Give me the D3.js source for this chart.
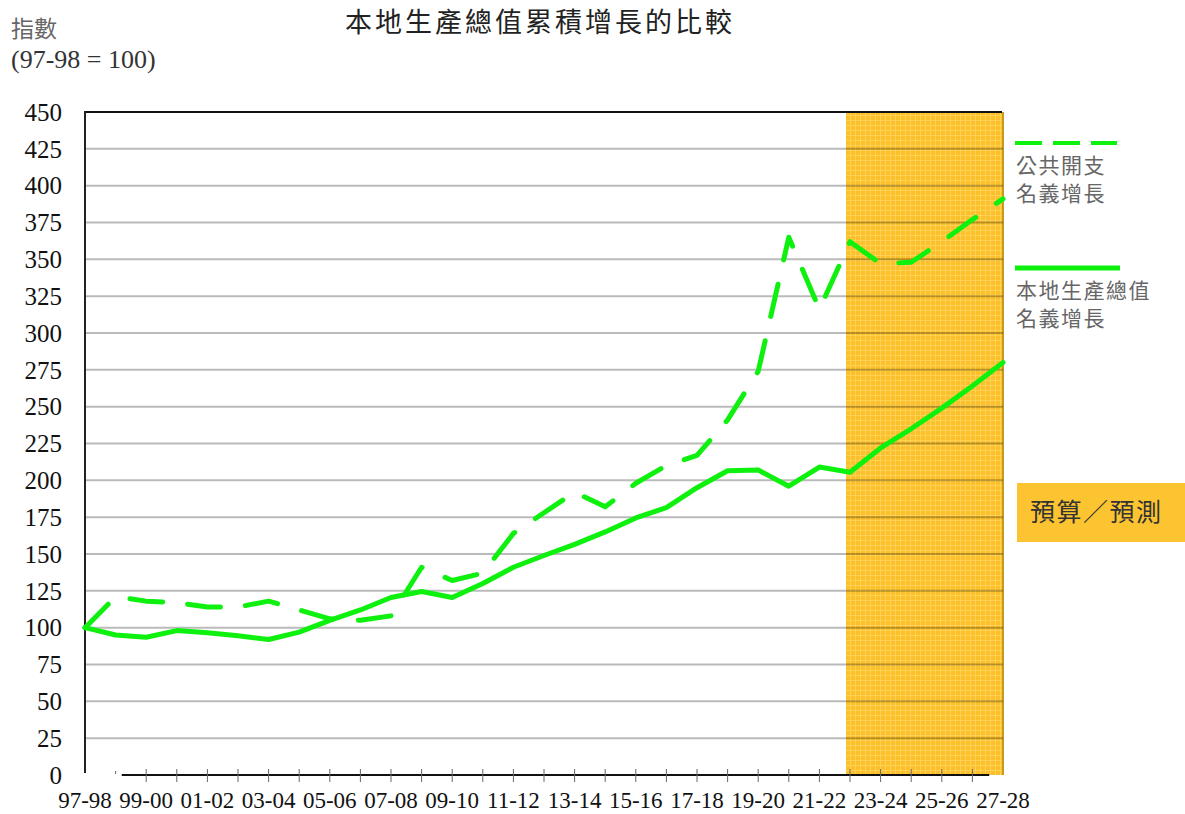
<!DOCTYPE html>
<html>
<head>
<meta charset="utf-8">
<script src="https://cdn.jsdelivr.net/npm/d3@7"></script>
<style>
  html, body { margin: 0; padding: 0; background: #fff; }
  svg { display: block; }
</style>
</head>
<body>
<svg id="chart" width="1185" height="814"></svg>
<script>
// ---- data ----
const years = ["97-98","98-99","99-00","00-01","01-02","02-03","03-04","04-05","05-06","06-07",
               "07-08","08-09","09-10","10-11","11-12","12-13","13-14","14-15","15-16","16-17",
               "17-18","18-19","19-20","20-21","21-22","22-23","23-24","24-25","25-26","26-27","27-28"];
const publicExpenditure = [100,121,118,117,114,114,118,112,106,105,
                           108,141,132,137,164,178,192,182,198,210,
                           217,241,274,365,316,362,347,348,362,377,391];
const gdp = [100,95,93.5,98,96.5,94.5,92,97,105,112,
             120.5,124.5,120.5,130,141,149,156.5,165,174.5,181.5,
             195,206.5,207,196,209,205.5,222,235,249,264,280];
const yTicks = [0,25,50,75,100,125,150,175,200,225,250,275,300,325,350,375,400,425,450];
const xLabels = ["97-98","99-00","01-02","03-04","05-06","07-08","09-10","11-12","13-14",
                 "15-16","17-18","19-20","21-22","23-24","25-26","27-28"];
const forecastStart = "22-23";
const title = "本地生產總值累積增長的比較";
const yTitle1 = "指數";
const yTitle2 = "(97-98 = 100)";
const legendPublic = ["公共開支", "名義增長"];
const legendGdp = ["本地生產總值", "名義增長"];
const forecastLabel = "預算／預測";

// ---- drawing ----
const svg = d3.select("#chart");
const GREEN = "#0ef00e";
const x = d3.scaleLinear().domain([0, years.length - 1]).range([85, 1003]);
const y = d3.scaleLinear().domain([0, 450]).range([775, 112]);
const xi = s => years.indexOf(s);

// pattern for forecast shading
const defs = svg.append("defs");
const pat = defs.append("pattern").attr("id", "dots").attr("patternUnits", "userSpaceOnUse")
  .attr("width", 5).attr("height", 5);
pat.append("rect").attr("width", 5).attr("height", 5).attr("fill", "#fcc12a");
pat.append("rect").attr("x", 0).attr("y", 0).attr("width", 5).attr("height", 1).attr("fill", "#ffd560").attr("opacity", 0.8);
pat.append("rect").attr("x", 0).attr("y", 0).attr("width", 1).attr("height", 5).attr("fill", "#ffd560").attr("opacity", 0.8);

// forecast area
const fx0 = x(xi(forecastStart) - 0.13);
svg.append("rect").attr("x", fx0).attr("y", y(450)).attr("width", x(years.length - 1) - fx0)
  .attr("height", y(0) - y(450)).attr("fill", "url(#dots)");
svg.append("line").attr("x1", x(years.length - 1)).attr("x2", x(years.length - 1))
  .attr("y1", y(450)).attr("y2", y(0)).attr("stroke", "#c99a1c").attr("stroke-width", 2);

// gridlines
svg.append("g").selectAll("line").data(yTicks.filter(v => v > 0 && v < 450)).join("line")
  .attr("x1", x(0)).attr("x2", x(years.length - 1))
  .attr("y1", d => y(d)).attr("y2", d => y(d))
  .attr("stroke", "#000").attr("stroke-opacity", 0.27).attr("stroke-width", 2);

// top border
svg.append("line").attr("x1", x(0)).attr("x2", x(years.length - 1) - 1)
  .attr("y1", y(450)).attr("y2", y(450)).attr("stroke", "#111").attr("stroke-width", 2);
// y axis
svg.append("line").attr("x1", x(0)).attr("x2", x(0))
  .attr("y1", y(450) - 1).attr("y2", y(0) - 2).attr("stroke", "#222").attr("stroke-width", 2);

// y labels
svg.append("g").selectAll("text").data(yTicks).join("text")
  .attr("x", 62).attr("y", d => y(d)).attr("dy", "0.35em")
  .attr("text-anchor", "end")
  .attr("font-family", "'Liberation Serif', 'Times New Roman', serif")
  .attr("font-size", 25).attr("fill", "#111")
  .text(d => d);

// x axis line
svg.append("line").attr("x1", x(1.2)).attr("x2", x(29.55))
  .attr("y1", y(0)).attr("y2", y(0)).attr("stroke", "#111").attr("stroke-width", 2);
svg.append("g").selectAll("line").data(d3.range(1, years.length - 1)).join("line")
  .attr("x1", d => x(d)).attr("x2", d => x(d))
  .attr("y1", d => d === 1 ? y(0) - 4 : y(0) - 6)
  .attr("y2", d => d === 1 ? y(0) - 1 : y(0) + 7)
  .attr("stroke", "#666").attr("stroke-width", 1);

// x labels
svg.append("g").selectAll("text").data(xLabels).join("text")
  .attr("x", d => x(xi(d))).attr("y", 808)
  .attr("text-anchor", "middle")
  .attr("font-family", "'Liberation Serif', 'Times New Roman', serif")
  .attr("font-size", 23).attr("fill", "#111")
  .text(d => d);

// lines
const line = d3.line().x((d, i) => x(i)).y(d => y(d)).curve(d3.curveLinear);
svg.append("path").datum(gdp).attr("d", line)
  .attr("fill", "none").attr("stroke", GREEN).attr("stroke-width", 5)
  .attr("stroke-linejoin", "round").attr("stroke-linecap", "round");
svg.append("path").datum(publicExpenditure).attr("d", line)
  .attr("fill", "none").attr("stroke", GREEN).attr("stroke-width", 5)
  .attr("stroke-dasharray", "33,25")
  .attr("stroke-linejoin", "round").attr("stroke-linecap", "round");

// titles
svg.append("text").attr("x", 345).attr("y", 32)
  .attr("font-family", "'Noto Sans CJK TC', sans-serif").attr("font-size", 27)
  .attr("letter-spacing", 3)
  .attr("fill", "#222").text(title);
svg.append("text").attr("x", 11).attr("y", 37)
  .attr("font-family", "'Noto Sans CJK TC', sans-serif").attr("font-size", 23)
  .attr("fill", "#666").text(yTitle1);
svg.append("text").attr("x", 11).attr("y", 68)
  .attr("font-family", "'Liberation Serif', 'Times New Roman', serif").attr("font-size", 26)
  .attr("fill", "#333").text(yTitle2);

// legend
const lg = svg.append("g");
lg.append("line").attr("x1", 1015).attr("x2", 1117).attr("y1", 143).attr("y2", 143)
  .attr("stroke", GREEN).attr("stroke-width", 4).attr("stroke-dasharray", "27,11");
lg.append("line").attr("x1", 1015).attr("x2", 1120).attr("y1", 268).attr("y2", 268)
  .attr("stroke", GREEN).attr("stroke-width", 5);
const legText = (lines, y0) => lg.append("g").selectAll("text").data(lines).join("text")
  .attr("x", 1016).attr("y", (d, i) => y0 + i * 28)
  .attr("font-family", "'Noto Sans CJK TC', sans-serif").attr("font-size", 21)
  .attr("letter-spacing", 1.5)
  .attr("fill", "#666").text(d => d);
legText(legendPublic, 173);
legText(legendGdp, 298);

// forecast label box
svg.append("rect").attr("x", 1017).attr("y", 483).attr("width", 168).attr("height", 59)
  .attr("fill", "#fcc430");
svg.append("text").attr("x", 1030).attr("y", 521)
  .attr("font-family", "'Noto Sans CJK TC', sans-serif").attr("font-size", 25)
  .attr("letter-spacing", 1.5)
  .attr("fill", "#333").text(forecastLabel);
</script>
</body>
</html>
